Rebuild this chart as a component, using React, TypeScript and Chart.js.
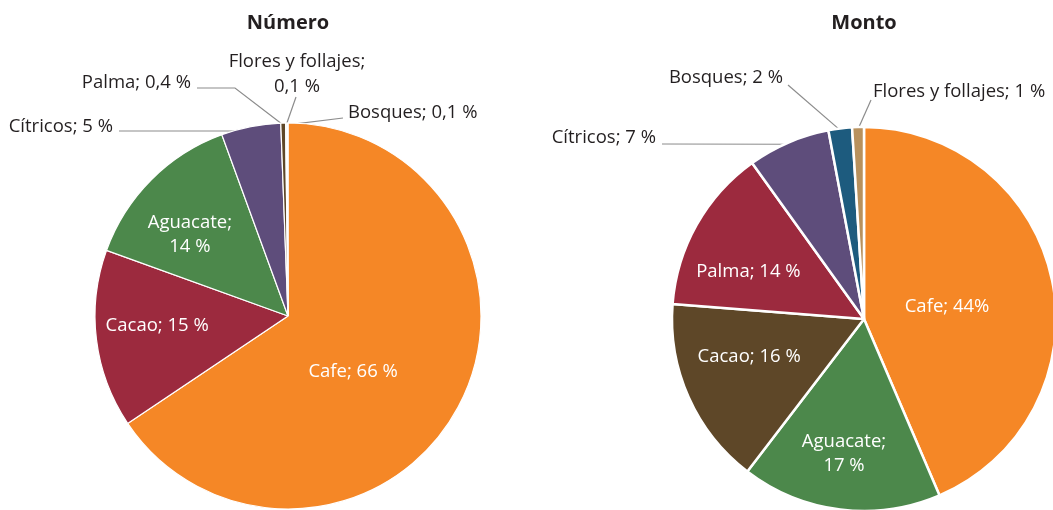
import React, { useEffect, useRef } from 'react';
import { Chart, registerables } from 'chart.js';

Chart.register(...registerables);

const FONT = '"Open Sans", "Noto Sans", sans-serif';

// ---- Número ----
const numeroTitle = 'Número';
const numeroCategories = ['Cafe', 'Cacao', 'Aguacate', 'Cítricos', 'Palma', 'Flores y follajes', 'Bosques'];
const numeroValues = [66, 15, 14, 5, 0.4, 0.1, 0.1];
const numeroLabels = ['Cafe; 66 %', 'Cacao; 15 %', 'Aguacate;\n14 %', 'Cítricos; 5 %', 'Palma; 0,4 %', 'Flores y follajes;\n0,1 %', 'Bosques; 0,1 %'];
const numeroColors = ['#F58726', '#9C2A3E', '#4C884B', '#5E4D7B', '#5E4728', '#1D5B7E', '#B8915D'];

// ---- Monto ----
const montoTitle = 'Monto';
const montoCategories = ['Cafe', 'Aguacate', 'Cacao', 'Palma', 'Cítricos', 'Bosques', 'Flores y follajes'];
const montoValues = [44, 17, 16, 14, 7, 2, 1];
const montoLabels = ['Cafe; 44%', 'Aguacate;\n17 %', 'Cacao; 16 %', 'Palma; 14 %', 'Cítricos; 7 %', 'Bosques; 2 %', 'Flores y follajes; 1 %'];
const montoColors = ['#F58726', '#4C884B', '#5E4728', '#9C2A3E', '#5E4D7B', '#1D5B7E', '#B8915D'];

// label layout (relative to pie centre / radius)
type InL = { kind: 'in'; f: number; dA: number };
type OutL = { kind: 'out'; dx: number; dy: number; align: CanvasTextAlign; path: number[][] };
type L = InL | OutL;

const numeroLayout: L[] = [
  { kind: 'in', f: 0.445, dA: 12.6 },
  { kind: 'in', f: 0.68, dA: 2.6 },
  { kind: 'in', f: 0.66, dA: -5.3 },
  { kind: 'out', dx: -175, dy: -189, align: 'right', path: [[-169, -185], [-53, -185]] },
  { kind: 'out', dx: -97, dy: -233, align: 'right', path: [[-91, -228], [-53, -228]] },
  { kind: 'out', dx: 9, dy: -242, align: 'center', path: [[8, -219]] },
  { kind: 'out', dx: 60, dy: -203, align: 'left', path: [[55, -198]] },
];

const montoLayout: L[] = [
  { kind: 'in', f: 0.437, dA: 3.4 },
  { kind: 'in', f: 0.71, dA: 1.3 },
  { kind: 'in', f: 0.63, dA: 5.8 },
  { kind: 'in', f: 0.65, dA: -7.3 },
  { kind: 'out', dx: -208, dy: -181, align: 'right', path: [[-202, -175]] },
  { kind: 'out', dx: -81, dy: -241, align: 'right', path: [[-76, -234]] },
  { kind: 'out', dx: 9, dy: -227, align: 'left', path: [[7, -219]] },
];

const pieLabelPlugin = {
  id: 'pieLabels',
  beforeDatasetsDraw(chart: any, _a: any, opts: any) {
    const meta = chart.getDatasetMeta(0);
    const ctx = chart.ctx as CanvasRenderingContext2D;
    ctx.save();
    ctx.strokeStyle = '#8C8C8C';
    ctx.lineWidth = 1.2;
    (opts.layout as L[]).forEach((lay, i) => {
      if (lay.kind !== 'out') return;
      const arc = meta.data[i];
      const p = arc.getProps(['x', 'y', 'startAngle', 'endAngle', 'outerRadius'], true);
      const mid = (p.startAngle + p.endAngle) / 2;
      ctx.beginPath();
      lay.path.forEach(([dx, dy], k) => {
        if (k === 0) ctx.moveTo(p.x + dx, p.y + dy);
        else ctx.lineTo(p.x + dx, p.y + dy);
      });
      const rr = p.outerRadius * 0.99;
      ctx.lineTo(p.x + Math.cos(mid) * rr, p.y + Math.sin(mid) * rr);
      ctx.stroke();
    });
    ctx.restore();
  },
  afterDatasetsDraw(chart: any, _a: any, opts: any) {
    const meta = chart.getDatasetMeta(0);
    const ctx = chart.ctx as CanvasRenderingContext2D;
    const labels: string[] = opts.labels;
    ctx.save();
    ctx.textBaseline = 'middle';
    ctx.font = `18.5px ${FONT}`;
    const lh = 24.5;
    (opts.layout as L[]).forEach((lay, i) => {
      const arc = meta.data[i];
      const p = arc.getProps(['x', 'y', 'startAngle', 'endAngle', 'outerRadius'], true);
      let tx: number, ty: number;
      if (lay.kind === 'in') {
        const a = (p.startAngle + p.endAngle) / 2 + (lay.dA * Math.PI) / 180;
        tx = p.x + Math.cos(a) * p.outerRadius * lay.f;
        ty = p.y + Math.sin(a) * p.outerRadius * lay.f;
        ctx.textAlign = 'center';
        ctx.fillStyle = '#FFFFFF';
      } else {
        tx = p.x + lay.dx;
        ty = p.y + lay.dy;
        ctx.textAlign = lay.align;
        ctx.fillStyle = '#231F20';
      }
      const lines = labels[i].split('\n');
      lines.forEach((ln, k) => {
        ctx.fillText(ln, tx, ty + (k - (lines.length - 1) / 2) * lh);
      });
    });
    // title
    const a0 = meta.data[0];
    ctx.font = `bold 20px ${FONT}`;
    ctx.textAlign = 'center';
    ctx.fillStyle = '#231F20';
    ctx.fillText(opts.title, a0.x, opts.titleY);
    ctx.restore();
  },
};

function makeChart(
  canvas: HTMLCanvasElement,
  categories: string[],
  values: number[],
  colors: string[],
  labels: string[],
  layout: L[],
  title: string,
  radius: number,
  borderWidth: number,
  padding: { left: number; right: number; top: number; bottom: number }
) {
  return new Chart(canvas, {
    type: 'pie',
    data: {
      labels: categories,
      datasets: [
        {
          data: values,
          backgroundColor: colors,
          borderColor: '#FFFFFF',
          borderWidth,
          radius,
        } as any,
      ],
    },
    options: {
      responsive: false,
      animation: false,
      layout: { padding },
      plugins: {
        legend: { display: false },
        tooltip: { enabled: false },
        title: { display: false },
        pieLabels: { labels, layout, title, titleY: 23 },
      } as any,
      events: [],
    },
    plugins: [pieLabelPlugin as any],
  });
}

export default function App() {
  const leftRef = useRef<HTMLCanvasElement>(null);
  const rightRef = useRef<HTMLCanvasElement>(null);

  useEffect(() => {
    const c1 = makeChart(leftRef.current!, numeroCategories, numeroValues, numeroColors, numeroLabels, numeroLayout, numeroTitle, 193, 1.2, { left: 0, right: 477, top: 0, bottom: 8 });
    const c2 = makeChart(rightRef.current!, montoCategories, montoValues, montoColors, montoLabels, montoLayout, montoTitle, 192, 2.5, { left: 675, right: 0, top: 0, bottom: 2 });
    return () => {
      c1.destroy();
      c2.destroy();
    };
  }, []);

  const cStyle: React.CSSProperties = { position: 'absolute', left: 0, top: 0, display: 'block' };
  return (
    <div style={{ position: 'fixed', left: 0, top: 0, width: 1053, height: 510, overflow: 'hidden', background: '#FFFFFF' }}>
      <canvas ref={leftRef} width={1053} height={640} style={cStyle} />
      <canvas ref={rightRef} width={1053} height={640} style={cStyle} />
    </div>
  );
}
